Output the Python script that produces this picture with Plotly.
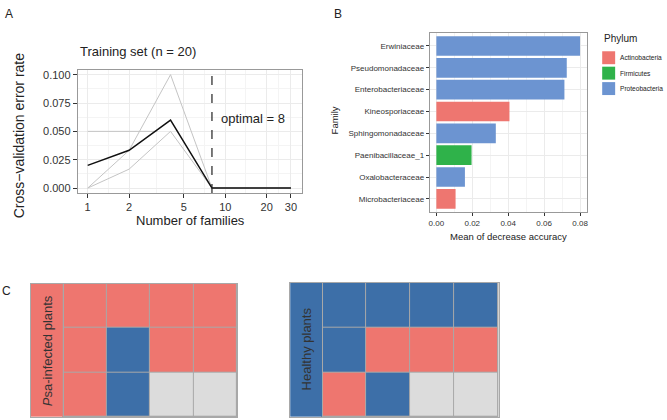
import plotly.graph_objects as go

# ---------------- data ----------------
# Panel A: cross-validation error vs number of families
n_families = [1, 2, 4, 8, 15, 30]
cv_mean = [0.020, 0.0333, 0.060, 0.0, 0.0, 0.0]
cv_rep_high = [0.0, 0.0333, 0.100, 0.0, 0.0, 0.0]
cv_rep_low = [0.0, 0.0167, 0.050, 0.0, 0.0, 0.0]
cv_rep_flat_x = [1, 3.2]
cv_rep_flat = [0.05, 0.05]
optimal_n = 8
a_xticks = [1, 2, 5, 10, 20, 30]
a_yticks = [0.0, 0.025, 0.05, 0.075, 0.1]

# Panel B: importance
families = ["Erwiniaceae", "Pseudomonadaceae", "Enterobacteriaceae", "Kineosporiaceae",
            "Sphingomonadaceae", "Paenibacillaceae_1", "Oxalobacteraceae", "Microbacteriaceae"]
importance = [0.0800, 0.0726, 0.0713, 0.0407, 0.0331, 0.0196, 0.0159, 0.0107]
phylum = ["Proteobacteria", "Proteobacteria", "Proteobacteria", "Actinobacteria",
          "Proteobacteria", "Firmicutes", "Proteobacteria", "Actinobacteria"]
phyla = ["Actinobacteria", "Firmicutes", "Proteobacteria"]
b_xticks = [0.0, 0.02, 0.04, 0.06, 0.08]

# Panel C: grids (0 = empty, 1 = red, 2 = blue)
grid_infected = [[1, 1, 1, 1], [1, 2, 1, 1], [1, 2, 0, 0]]
grid_healthy = [[2, 2, 2, 2], [2, 1, 1, 1], [1, 2, 0, 0]]
label_infected = 1
label_healthy = 2

# ---------------- styles ----------------
W, H = 667, 420
FONT = "Liberation Sans, Arial, sans-serif"
phylum_colors = {"Actinobacteria": "#EE7670", "Firmicutes": "#2FB24A", "Proteobacteria": "#6C94D1"}
C_RED, C_BLUE, C_GRAY = "#EE766F", "#3D6FA8", "#DCDCDC"
cell_scale = [[0, C_GRAY], [0.5, C_RED], [1, C_BLUE]]


def xdom(a, b):
    return [a / W, b / W]


def ydom(top, bottom):
    return [1 - bottom / H, 1 - top / H]


fig = go.Figure()

# ---- Panel A traces ----
fig.add_trace(go.Scatter(x=n_families, y=cv_rep_high, mode="lines",
                         line=dict(color="#C4C4C4", width=1), xaxis="x", yaxis="y", showlegend=False))
fig.add_trace(go.Scatter(x=n_families, y=cv_rep_low, mode="lines",
                         line=dict(color="#C4C4C4", width=1), xaxis="x", yaxis="y", showlegend=False))
fig.add_trace(go.Scatter(x=cv_rep_flat_x, y=cv_rep_flat, mode="lines",
                         line=dict(color="#C4C4C4", width=1), xaxis="x", yaxis="y", showlegend=False))
fig.add_trace(go.Scatter(x=n_families, y=cv_mean, mode="lines",
                         line=dict(color="#111111", width=1.5), xaxis="x", yaxis="y", showlegend=False))

# ---- Panel B traces ----
for ph in phyla:
    xs = [v for v, p in zip(importance, phylum) if p == ph]
    ys = [f for f, p in zip(families, phylum) if p == ph]
    fig.add_trace(go.Bar(x=xs, y=ys, orientation="h", name=ph, width=0.9,
                         marker=dict(color=phylum_colors[ph], line=dict(width=0)),
                         xaxis="x2", yaxis="y2", showlegend=False))

# ---- Panel C traces ----
fig.add_trace(go.Heatmap(z=grid_infected, colorscale=cell_scale, zmin=0, zmax=2, showscale=False,
                         xgap=1, ygap=1, xaxis="x3", yaxis="y3", hoverinfo="skip"))
fig.add_trace(go.Heatmap(z=[[label_infected]], colorscale=cell_scale, zmin=0, zmax=2, showscale=False,
                         xaxis="x4", yaxis="y4", hoverinfo="skip"))
fig.add_trace(go.Heatmap(z=grid_healthy, colorscale=cell_scale, zmin=0, zmax=2, showscale=False,
                         xgap=1, ygap=1, xaxis="x5", yaxis="y5", hoverinfo="skip"))
fig.add_trace(go.Heatmap(z=[[label_healthy]], colorscale=cell_scale, zmin=0, zmax=2, showscale=False,
                         xaxis="x6", yaxis="y6", hoverinfo="skip"))

tick_font = dict(family=FONT, size=11, color="#333333")
small_font = dict(family=FONT, size=8, color="#333333")

hidden = dict(visible=True, showticklabels=False, ticks="", showgrid=False, zeroline=False,
              showline=True, linecolor="#A8A8A8", linewidth=1, mirror=True)

fig.update_layout(
    width=W, height=H, margin=dict(l=0, r=0, t=0, b=0),
    paper_bgcolor="white", plot_bgcolor="white",
    font=dict(family=FONT, color="#222222"),
    barmode="overlay", showlegend=False,
    xaxis=dict(domain=xdom(77, 302), anchor="y", type="log", range=[-0.072, 1.558],
               tickmode="array", tickvals=a_xticks, ticktext=[str(v) for v in a_xticks],
               ticks="outside", ticklen=4, tickcolor="#333333", tickfont=tick_font,
               showgrid=True, gridcolor="#EBEBEB", gridwidth=1, zeroline=False,
               minor=dict(tickvals=[1.41, 3.16, 7.07, 14.1, 24.5], showgrid=True,
                          gridcolor="#F4F4F4", ticks=""),
               showline=True, linecolor="#999999", linewidth=1, mirror=True),
    yaxis=dict(domain=ydom(69, 193), anchor="x", range=[-0.0044, 0.1044],
               tickmode="array", tickvals=a_yticks, ticktext=["0.000", "0.025", "0.050", "0.075", "0.100"],
               ticks="outside", ticklen=4, tickcolor="#333333", tickfont=tick_font,
               showgrid=True, gridcolor="#EBEBEB", zeroline=False,
               minor=dict(tickvals=[0.0125, 0.0375, 0.0625, 0.0875], showgrid=True,
                          gridcolor="#F4F4F4", ticks=""),
               showline=True, linecolor="#999999", linewidth=1, mirror=True),
    xaxis2=dict(domain=xdom(430, 588), anchor="y2", range=[-0.0037, 0.084],
                tickmode="array", tickvals=b_xticks, ticktext=["0.00", "0.02", "0.04", "0.06", "0.08"],
                ticks="outside", ticklen=3, tickcolor="#333333", tickfont=small_font,
                showgrid=True, gridcolor="#EBEBEB", zeroline=False,
                minor=dict(tickvals=[0.01, 0.03, 0.05, 0.07], showgrid=True, gridcolor="#F4F4F4", ticks=""),
                showline=True, linecolor="#999999", linewidth=1, mirror=True),
    yaxis2=dict(domain=ydom(32, 212), anchor="x2", type="category",
                categoryorder="array", categoryarray=families[::-1],
                range=[-0.6, 7.6],
                ticks="outside", ticklen=3, tickcolor="#333333", tickfont=small_font,
                showgrid=True, gridcolor="#EBEBEB", zeroline=False,
                showline=True, linecolor="#999999", linewidth=1, mirror=True),
    xaxis3=dict(domain=xdom(62, 237), anchor="y3", range=[-0.5, 3.5], **hidden),
    yaxis3=dict(domain=ydom(284, 418), anchor="x3", range=[2.5, -0.5], **hidden),
    xaxis4=dict(domain=xdom(30, 62), anchor="y4", range=[-0.5, 0.5], **hidden),
    yaxis4=dict(domain=ydom(284, 418), anchor="x4", range=[-0.5, 0.5], **hidden),
    xaxis5=dict(domain=xdom(322, 499), anchor="y5", range=[-0.5, 3.5], **hidden),
    yaxis5=dict(domain=ydom(283, 418), anchor="x5", range=[2.5, -0.5], **hidden),
    xaxis6=dict(domain=xdom(290, 322), anchor="y6", range=[-0.5, 0.5], **hidden),
    yaxis6=dict(domain=ydom(283, 418), anchor="x6", range=[-0.5, 0.5], **hidden),
)

# gray background under heatmap gaps (cell borders)
for xa, ya in [("x3", "y3"), ("x5", "y5")]:
    fig.add_shape(type="rect", xref=f"{xa} domain", yref=f"{ya} domain",
                  x0=0, x1=1, y0=0, y1=1, fillcolor="#A8A8A8", line=dict(width=0), layer="below")

# optimal line
fig.add_shape(type="line", xref="x", yref="y domain", x0=optimal_n, x1=optimal_n, y0=0, y1=1,
              line=dict(color="#222222", width=1.2, dash="dash"))


def ann(text, x, y, size, rot=0, xanchor="center", yanchor="middle", color="#222222"):
    fig.add_annotation(text=text, x=x / W, y=1 - y / H, xref="paper", yref="paper",
                       showarrow=False, textangle=rot, xanchor=xanchor, yanchor=yanchor,
                       font=dict(family=FONT, size=size, color=color))


# manual legend for panel B
ann("Phylum", 603, 38, 10, xanchor="left")
leg_y = [57, 72.5, 88]
for ph, cy in zip(phyla, leg_y):
    fig.add_shape(type="rect", xref="paper", yref="paper",
                  x0=603 / W, x1=616 / W, y0=1 - (cy + 6.5) / H, y1=1 - (cy - 6.5) / H,
                  fillcolor=phylum_colors[ph], line=dict(width=0))
    ann(ph, 618.5, cy, 6.6, xanchor="left")

ann("A", 8, 13, 12, xanchor="center")
ann("B", 338, 13, 12, xanchor="center")
ann("C", 6, 291, 12, xanchor="center")
ann("Training set (n = 20)", 77, 51, 13, xanchor="left")
ann("Cross\u2212validation error rate", 18, 135, 14, rot=-90)
ann("Number of families", 190, 221, 13)
ann("optimal = 8", 219, 118, 13, xanchor="left")
ann("Family", 334, 120, 9.5, rot=-90)
ann("Mean of decrease accuracy", 509, 237, 9.5)
ann("<i>P</i>sa-infected plants", 46, 351, 13, rot=-90, color="#333333")
ann("Healthy plants", 306, 350, 13, rot=-90, color="#333333")

fig.write_html("out.html", config={"displayModeBar": False},
               post_script="document.body.style.margin='0';document.body.style.overflow='hidden';")
